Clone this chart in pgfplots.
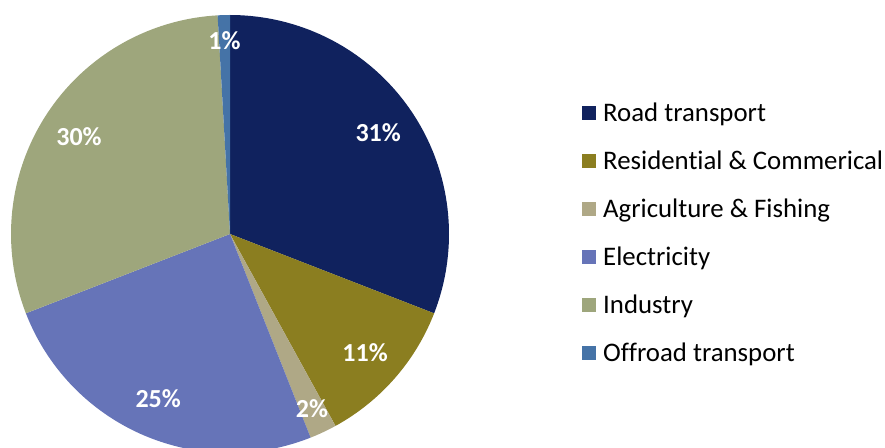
\documentclass[border=0pt]{standalone}
\usepackage{pgfplots}
\pgfplotsset{compat=1.18}
\usepackage{fontspec}
\setmainfont{Carlito}[Ligatures=NoCommon]
\definecolor{cRoad}{HTML}{10225E}
\definecolor{cRes}{HTML}{8B7E20}
\definecolor{cAgr}{HTML}{AFA886}
\definecolor{cEle}{HTML}{6674B8}
\definecolor{cInd}{HTML}{9EA67C}
\definecolor{cOff}{HTML}{4573A7}
\begin{document}
\begin{tikzpicture}
% shares in percent, clockwise from 12 o'clock
\def\vA{30.9}\def\vB{11.1}\def\vC{2.0}\def\vD{25.1}\def\vE{30.0}\def\vF{0.9}
\pgfmathsetmacro\aA{90}
\pgfmathsetmacro\aB{\aA-3.6*\vA}
\pgfmathsetmacro\aC{\aB-3.6*\vB}
\pgfmathsetmacro\aD{\aC-3.6*\vC}
\pgfmathsetmacro\aE{\aD-3.6*\vD}
\pgfmathsetmacro\aF{\aE-3.6*\vE}
\pgfmathsetmacro\aG{\aF-3.6*\vF}
\pgfmathsetmacro\mA{(\aA+\aB)/2}
\pgfmathsetmacro\mB{(\aB+\aC)/2}
\pgfmathsetmacro\mC{(\aC+\aD)/2}
\pgfmathsetmacro\mD{(\aD+\aE)/2}
\pgfmathsetmacro\mE{(\aE+\aF)/2}
\pgfmathsetmacro\mF{(\aF+\aG)/2}
\def\cx{230}\def\cy{214}\def\R{219}
\begin{axis}[
  scale only axis, width=885bp, height=448bp,
  xmin=0, xmax=885, ymin=0, ymax=448,
  hide axis, clip=true,
  legend image code/.code={\fill[#1] (0bp,-7bp) rectangle (14bp,7bp); \path (19bp,0bp);},
  legend style={draw=none, fill=none, at={(582/885,1-101/448)}, anchor=north west,
    font=\fontsize{26.8bp}{30bp}\selectfont, inner sep=0pt, row sep=23.8bp,
    nodes={inner sep=2bp}},
  legend cell align=left,
]
\addplot[fill=cRoad, draw=none, domain=\aB:\aA, samples=80, variable=\t] ({\cx+\R*cos(\t)},{\cy+\R*sin(\t)}) -- (axis cs:\cx,\cy) -- cycle;
\addlegendentry{Road transport}
\addplot[fill=cRes, draw=none, domain=\aC:\aB, samples=40, variable=\t] ({\cx+\R*cos(\t)},{\cy+\R*sin(\t)}) -- (axis cs:\cx,\cy) -- cycle;
\addlegendentry{Residential \& Commerical}
\addplot[fill=cAgr, draw=none, domain=\aD:\aC, samples=10, variable=\t] ({\cx+\R*cos(\t)},{\cy+\R*sin(\t)}) -- (axis cs:\cx,\cy) -- cycle;
\addlegendentry{Agriculture \& Fishing}
\addplot[fill=cEle, draw=none, domain=\aE:\aD, samples=80, variable=\t] ({\cx+\R*cos(\t)},{\cy+\R*sin(\t)}) -- (axis cs:\cx,\cy) -- cycle;
\addlegendentry{Electricity}
\addplot[fill=cInd, draw=none, domain=\aF:\aE, samples=80, variable=\t] ({\cx+\R*cos(\t)},{\cy+\R*sin(\t)}) -- (axis cs:\cx,\cy) -- cycle;
\addlegendentry{Industry}
\addplot[fill=cOff, draw=none, domain=\aG:\aF, samples=6, variable=\t] ({\cx+\R*cos(\t)},{\cy+\R*sin(\t)}) -- (axis cs:\cx,\cy) -- cycle;
\addlegendentry{Offroad transport}
\tikzset{lab/.style={text=white, font=\fontsize{26bp}{30bp}\selectfont\bfseries}}
\node[lab] at (axis cs:{\cx+0.82*\R*cos(\mA)},{\cy+0.82*\R*sin(\mA)}) {31\%};
\node[lab] at (axis cs:{\cx+0.82*\R*cos(\mB)},{\cy+0.82*\R*sin(\mB)}) {11\%};
\node[lab] at (axis cs:{\cx+0.88*\R*cos(\mC)},{\cy+0.88*\R*sin(\mC)}) {2\%};
\node[lab] at (axis cs:{\cx+0.82*\R*cos(\mD)},{\cy+0.82*\R*sin(\mD)}) {25\%};
\node[lab] at (axis cs:{\cx+0.82*\R*cos(\mE)},{\cy+0.82*\R*sin(\mE)}) {30\%};
\node[lab] at (axis cs:{\cx+0.885*\R*cos(\mF)},{\cy+0.885*\R*sin(\mF)}) {1\%};
\end{axis}
\pgfresetboundingbox
\useasboundingbox (current axis.south west) rectangle (current axis.north east);
\end{tikzpicture}
\end{document}
